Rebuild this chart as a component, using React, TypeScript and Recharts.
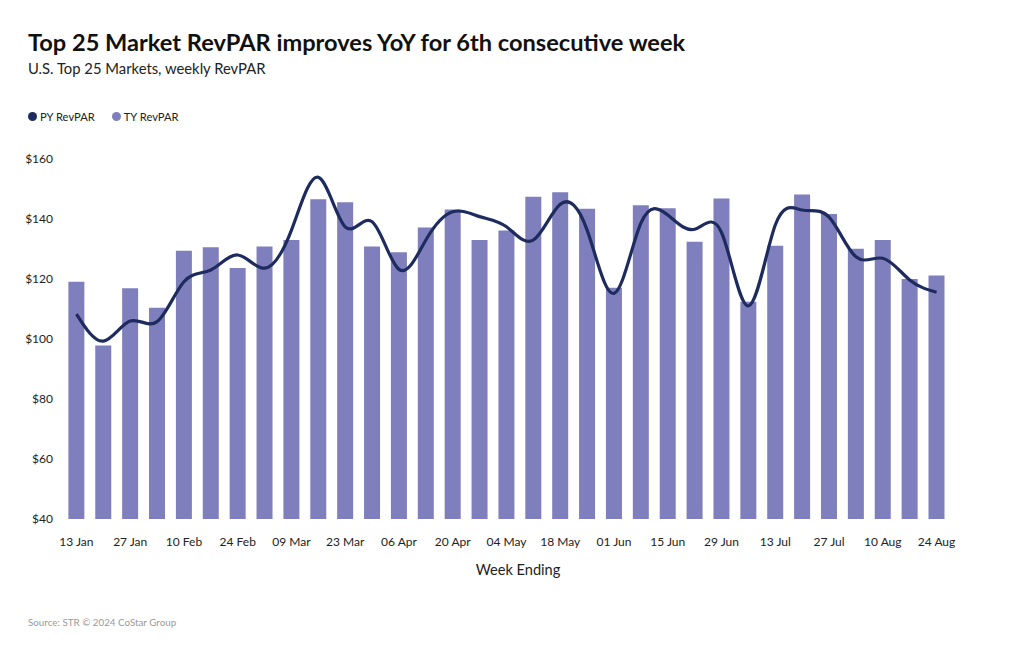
import { ComposedChart, Bar, Line, XAxis, YAxis } from 'recharts'

const weeks = [
  '13 Jan', '20 Jan', '27 Jan', '03 Feb', '10 Feb', '17 Feb', '24 Feb',
  '02 Mar', '09 Mar', '16 Mar', '23 Mar', '30 Mar', '06 Apr', '13 Apr',
  '20 Apr', '27 Apr', '04 May', '11 May', '18 May', '25 May', '01 Jun',
  '08 Jun', '15 Jun', '22 Jun', '29 Jun', '06 Jul', '13 Jul', '20 Jul',
  '27 Jul', '03 Aug', '10 Aug', '17 Aug', '24 Aug',
]

const tyRevpar = [
  119.1, 97.8, 116.9, 110.4, 129.4, 130.6, 123.7, 130.8, 133.0, 146.6, 145.6,
  130.8, 128.9, 137.2, 143.2, 133.0, 136.2, 147.4, 148.9, 143.4, 117.1, 144.6,
  143.6, 132.4, 146.8, 112.4, 131.1, 148.2, 141.7, 130.1, 133.0, 120.0, 121.2,
]

const pyRevpar = [
  108.3, 99.3, 106.0, 105.8, 119.1, 123.0, 128.0, 123.6, 136.3, 153.9, 137.4,
  139.1, 123.2, 133.0, 142.4, 140.8, 137.4, 133.0, 144.9, 136.3, 115.2, 138.6,
  141.3, 136.6, 135.5, 111.0, 138.0, 143.0, 140.6, 127.4, 126.9, 119.7, 115.6,
]

const yTicks = [40, 60, 80, 100, 120, 140, 160]

const TY_COLOR = '#7f7fbd'
const PY_COLOR = '#1e2b5e'
const FONT = 'Lato, "Noto Sans", sans-serif'

const data = weeks.map((week, i) => ({
  week,
  ty: tyRevpar[i],
  py: pyRevpar[i],
}))

const legendItems = [
  { name: 'PY RevPAR', color: PY_COLOR },
  { name: 'TY RevPAR', color: TY_COLOR },
]

export default function App() {
  return (
    <div
      style={{
        position: 'absolute',
        left: 0,
        top: 0,
        width: 1020,
        height: 650,
        background: '#fff',
        fontFamily: FONT,
        color: '#111',
      }}
    >
      <div
        style={{
          position: 'absolute',
          left: 28,
          top: 28,
          fontSize: 23.6,
          fontWeight: 700,
          whiteSpace: 'nowrap',
        }}
      >
        Top 25 Market RevPAR improves YoY for 6th consecutive week
      </div>
      <div
        style={{
          position: 'absolute',
          left: 28,
          top: 59,
          fontSize: 14.8,
          whiteSpace: 'nowrap',
          color: '#222',
        }}
      >
        U.S. Top 25 Markets, weekly RevPAR
      </div>
      <div
        style={{
          position: 'absolute',
          left: 28,
          top: 110,
          display: 'flex',
          gap: 17,
          fontSize: 11.2,
          color: '#222',
        }}
      >
        {legendItems.map((item) => (
          <div key={item.name} style={{ display: 'flex', alignItems: 'center' }}>
            <span
              style={{
                width: 9,
                height: 9,
                borderRadius: '50%',
                background: item.color,
                marginRight: 3,
              }}
            />
            {item.name}
          </div>
        ))}
      </div>

      <ComposedChart
        width={1020}
        height={650}
        data={data}
        margin={{ top: 159, right: 70, bottom: 101, left: 13 }}
        barCategoryGap='20%'
      >
        <XAxis
          dataKey='week'
          interval={1}
          axisLine={false}
          tickLine={false}
          tickSize={0}
          tickMargin={18}
          height={30}
          tick={{ fontSize: 12, fill: '#222', fontFamily: FONT }}
        />
        <YAxis
          domain={[40, 160]}
          ticks={yTicks}
          width={50}
          axisLine={false}
          tickLine={false}
          tickSize={0}
          tickMargin={10}
          tickFormatter={(v) => `$${v}`}
          tick={{ fontSize: 12, fill: '#222', fontFamily: FONT }}
        />
        <Bar dataKey='ty' name='TY RevPAR' fill={TY_COLOR} isAnimationActive={false} />
        <Line
          dataKey='py'
          name='PY RevPAR'
          type='natural'
          stroke={PY_COLOR}
          strokeWidth={3.2}
          dot={false}
          isAnimationActive={false}
        />
      </ComposedChart>

      <div
        style={{
          position: 'absolute',
          left: 518,
          top: 561,
          transform: 'translateX(-50%)',
          fontSize: 14.6,
          color: '#222',
          whiteSpace: 'nowrap',
        }}
      >
        Week Ending
      </div>
      <div
        style={{
          position: 'absolute',
          left: 28,
          top: 616,
          fontSize: 9.8,
          color: '#9a9a9a',
          whiteSpace: 'nowrap',
        }}
      >
        Source: STR © 2024 CoStar Group
      </div>
    </div>
  )
}
